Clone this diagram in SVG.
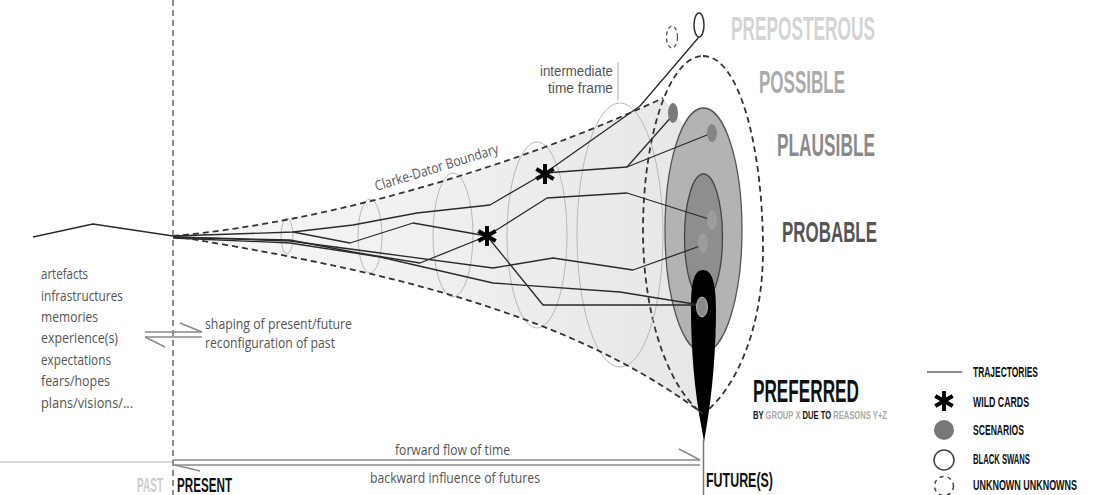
<svg xmlns="http://www.w3.org/2000/svg" width="1107" height="495" viewBox="0 0 1107 495">
<defs>
<linearGradient id="coneGrad" x1="173" y1="0" x2="700" y2="0" gradientUnits="userSpaceOnUse">
<stop offset="0" stop-color="#f8f8f8"/><stop offset="1" stop-color="#e7e7e7"/>
</linearGradient>
<g id="ast"><path d="M0,-10V10M-8.7,-5L8.7,5M-8.7,5L8.7,-5" stroke="#000" stroke-width="4"/></g>
</defs>
<style>
.dash{fill:none;stroke:#333;stroke-width:1.8;stroke-dasharray:6 4}
.tf{fill:none;stroke:#b8b8b8;stroke-width:1}
.traj{fill:none;stroke:#2a2a2a;stroke-width:1.3;stroke-linejoin:round}
.lbl{font-family:"Open Sans","Liberation Sans",sans-serif;font-size:15px;fill:#555}
.lbl2{font-family:"Liberation Sans","DejaVu Sans",sans-serif;font-size:14px;fill:#555}
.cap{font-family:"Liberation Sans","DejaVu Sans",sans-serif;font-weight:bold}
.arr{fill:none;stroke:#8a8a8a;stroke-width:1.5}
</style>
<rect width="1107" height="495" fill="#fff"/>
<line x1="0" y1="462" x2="173" y2="462" stroke="#cfcfcf" stroke-width="1.5"/>

<g id="cone">
<path d="M173,236 C330,222 520,165 663,98 L703,150 L703,414 C560,305 350,265 173,236 Z" fill="url(#coneGrad)"/>
</g>
<g id="possible">
<path d="M703,56 C740,56 763,150 763,250 C763,330 735,390 703,414 C670,390 643,320 643,230 C643,140 668,56 703,56 Z" fill="#ebebeb" class="dash"/>
</g>
<g id="time-frames">
<ellipse class="tf" cx="287" cy="236" rx="6" ry="18"/>
<ellipse class="tf" cx="370" cy="236" rx="12" ry="37"/>
<ellipse class="tf" cx="453" cy="235" rx="20" ry="62"/>
<ellipse class="tf" cx="537" cy="235" rx="30" ry="93"/>
<ellipse class="tf" cx="620" cy="235" rx="43" ry="132"/>
</g>
<g id="plausible">
<ellipse cx="703.5" cy="230" rx="38.5" ry="122" fill="#b3b3b3" stroke="#555" stroke-width="1.3"/>
</g>
<g id="probable">
<ellipse cx="703.5" cy="237" rx="19" ry="63" fill="#8e8e8e" stroke="#444" stroke-width="1.3"/>
</g>
<g id="preferred">
<path d="M703,270 C713,270 716,285 716,310 C716,345 713,390 706,430 L704,442 L702,430 C694,390 691,345 691,310 C691,285 693,270 703,270 Z" fill="#000"/>
<line x1="703.5" y1="440" x2="703.5" y2="495" stroke="#777" stroke-width="1.5"/>
</g>
<g id="boundary">
<path class="dash" d="M173,236 C330,222 520,165 663,98"/>
<path class="dash" d="M173,236 C350,265 560,305 703,414"/>
</g>

<g id="connectors">
<polyline class="traj" points="33,237 93,224 173,236"/>
<polyline class="traj" points="173,236 293,232 353,225 417,213 490,205 545,173"/>
<polyline class="traj" points="545,173 640,106 699,37"/>
<polyline class="traj" points="545,173 627,167 712,133"/>
<polyline class="traj" points="627,167 673,115"/>
<polyline class="traj" points="293,232 350,243 413,223 487,236"/>
<polyline class="traj" points="173,237 290,240 353,252 420,263 487,236"/>
<polyline class="traj" points="487,236 547,198 627,193 712,220"/>
<polyline class="traj" points="487,236 543,305 700,305"/>
<polyline class="traj" points="173,237 290,241 380,253 493,268 553,258 633,270 703,245"/>
<polyline class="traj" points="173,238 290,243 380,257 493,283 620,292 700,305"/>
</g>

<g id="scenarios">
<ellipse cx="673" cy="113" rx="5" ry="10" fill="#7a7a7a"/>
<ellipse cx="712" cy="133" rx="5" ry="9" fill="#858585"/>
<ellipse cx="712" cy="220" rx="5" ry="10" fill="#9c9c9c"/>
<ellipse cx="703" cy="243" rx="5" ry="10" fill="#9c9c9c"/>
<ellipse cx="702" cy="307" rx="5.5" ry="10" fill="#8a8a8a" stroke="#ccc" stroke-width="0.8"/>
</g>
<g id="wild-cards">
<use href="#ast" x="545" y="174"/>
<use href="#ast" x="487" y="236"/>
</g>
<g id="black-swan">
<ellipse cx="699" cy="25" rx="5" ry="12" fill="#fff" stroke="#333" stroke-width="1.5"/>
</g>
<g id="unknown-unknown">
<ellipse cx="672" cy="37" rx="5.5" ry="11" fill="none" stroke="#555" stroke-width="1.3" stroke-dasharray="4 3"/>
</g>

<g id="present-line">
<line x1="173" y1="0" x2="173" y2="495" stroke="#444" stroke-width="1.2" stroke-dasharray="6 4"/>
</g>

<g id="time-arrows">
<line class="arr" x1="173" y1="460" x2="700" y2="460"/>
<line class="arr" x1="679" y1="449" x2="700" y2="460"/>
<line class="arr" x1="173" y1="465" x2="700" y2="465"/>
<line class="arr" x1="175" y1="465" x2="200" y2="471"/>
<line class="arr" x1="145" y1="332" x2="202" y2="332"/>
<line class="arr" x1="180" y1="323" x2="202" y2="332"/>
<line class="arr" x1="145" y1="337" x2="202" y2="337"/>
<line class="arr" x1="145" y1="337" x2="165" y2="347"/>
<line x1="618" y1="62" x2="618" y2="100" stroke="#aaa" stroke-width="1"/>
</g>

<g id="labels">
<text class="lbl" x="41" y="279" textLength="47" lengthAdjust="spacingAndGlyphs">artefacts</text>
<text class="lbl" x="41" y="300.5" textLength="82" lengthAdjust="spacingAndGlyphs">infrastructures</text>
<text class="lbl" x="41" y="322" textLength="57" lengthAdjust="spacingAndGlyphs">memories</text>
<text class="lbl" x="41" y="343" textLength="77" lengthAdjust="spacingAndGlyphs">experience(s)</text>
<text class="lbl" x="41" y="364.5" textLength="70" lengthAdjust="spacingAndGlyphs">expectations</text>
<text class="lbl" x="41" y="386" textLength="69" lengthAdjust="spacingAndGlyphs">fears/hopes</text>
<text class="lbl" x="41" y="407.5" textLength="92" lengthAdjust="spacingAndGlyphs">plans/visions/...</text>
<text class="lbl" x="205" y="329" textLength="147" lengthAdjust="spacingAndGlyphs">shaping of present/future</text>
<text class="lbl" x="205" y="348" textLength="130" lengthAdjust="spacingAndGlyphs">reconfiguration of past</text>
<text class="lbl" x="395" y="455" textLength="115" lengthAdjust="spacingAndGlyphs">forward flow of time</text>
<text class="lbl" x="370" y="483" textLength="170" lengthAdjust="spacingAndGlyphs">backward influence of futures</text>
<text class="lbl2" x="540" y="76" textLength="73" lengthAdjust="spacingAndGlyphs">intermediate</text>
<text class="lbl2" x="548" y="92.5" textLength="65" lengthAdjust="spacingAndGlyphs">time frame</text>
<text class="lbl" x="438" y="172" style="font-size:14px" text-anchor="middle" transform="rotate(-17.2 438 172)" textLength="129" lengthAdjust="spacingAndGlyphs">Clarke-Dator Boundary</text>

<text class="cap" transform="translate(731,40) scale(0.55,1)" font-size="33" fill="#d4d4d4" textLength="261.8" lengthAdjust="spacingAndGlyphs">PREPOSTEROUS</text>
<text class="cap" transform="translate(759,93) scale(0.55,1)" font-size="31" fill="#ababab" textLength="156.4" lengthAdjust="spacingAndGlyphs">POSSIBLE</text>
<text class="cap" transform="translate(777,156) scale(0.55,1)" font-size="32" fill="#8a8a8a" textLength="178.2" lengthAdjust="spacingAndGlyphs">PLAUSIBLE</text>
<text class="cap" transform="translate(782,242) scale(0.55,1)" font-size="30" fill="#555" textLength="172.7" lengthAdjust="spacingAndGlyphs">PROBABLE</text>
<text class="cap" transform="translate(753,402) scale(0.55,1)" font-size="31" fill="#111" textLength="192.7" lengthAdjust="spacingAndGlyphs">PREFERRED</text>
<text class="cap" transform="translate(753,419) scale(0.55,1)" font-size="10" fill="#111" textLength="243.6" lengthAdjust="spacingAndGlyphs">BY <tspan fill="#aaa">GROUP X</tspan> DUE TO <tspan fill="#aaa">REASONS Y+Z</tspan></text>
<text class="cap" transform="translate(137,492) scale(0.55,1)" font-size="21" fill="#cccccc" textLength="47.3" lengthAdjust="spacingAndGlyphs">PAST</text>
<text class="cap" transform="translate(177,492) scale(0.55,1)" font-size="21" fill="#111" textLength="100" lengthAdjust="spacingAndGlyphs">PRESENT</text>
<text class="cap" transform="translate(706,487) scale(0.55,1)" font-size="21" fill="#111" textLength="121.8" lengthAdjust="spacingAndGlyphs">FUTURE(S)</text>
</g>

<g id="legend">
<line x1="927" y1="372" x2="962" y2="372" stroke="#666" stroke-width="1.5"/>
<use href="#ast" x="944" y="401"/>
<circle cx="944" cy="430" r="10" fill="#777"/>
<circle cx="944" cy="460" r="10" fill="#fff" stroke="#444" stroke-width="1.5"/>
<circle cx="944" cy="486" r="9.5" fill="none" stroke="#444" stroke-width="1.5" stroke-dasharray="4 4"/>
<text class="cap" transform="translate(973,377) scale(0.55,1)" font-size="14" fill="#111" textLength="118.2" lengthAdjust="spacingAndGlyphs">TRAJECTORIES</text>
<text class="cap" transform="translate(973,407) scale(0.55,1)" font-size="14" fill="#111" textLength="101.8" lengthAdjust="spacingAndGlyphs">WILD CARDS</text>
<text class="cap" transform="translate(973,435) scale(0.55,1)" font-size="14" fill="#111" textLength="92.7" lengthAdjust="spacingAndGlyphs">SCENARIOS</text>
<text class="cap" transform="translate(973,464) scale(0.55,1)" font-size="14" fill="#111" textLength="103.6" lengthAdjust="spacingAndGlyphs">BLACK SWANS</text>
<text class="cap" transform="translate(973,490) scale(0.55,1)" font-size="14" fill="#111" textLength="189.1" lengthAdjust="spacingAndGlyphs">UNKNOWN UNKNOWNS</text>
</g>
</svg>
